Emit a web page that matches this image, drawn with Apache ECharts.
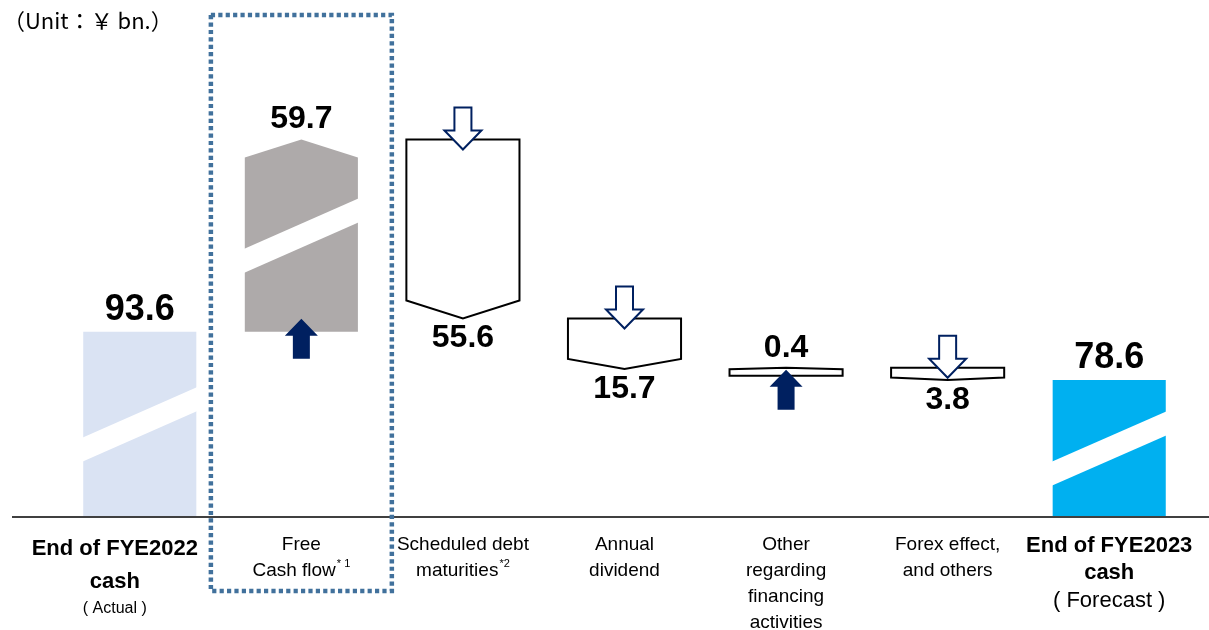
<!DOCTYPE html>
<html>
<head>
<meta charset="utf-8">
<script src="https://cdn.jsdelivr.net/npm/echarts@6/dist/echarts.min.js"></script>
<style>
  html, body { margin: 0; padding: 0; background: #fff; }
  #chart { width: 1209px; height: 630px; }
</style>
</head>
<body>
<div id="chart"></div>
<script>
// ---- data ----
const categories = [
  'End of FYE2022 cash',
  'Free Cash flow',
  'Scheduled debt maturities',
  'Annual dividend',
  'Other regarding financing activities',
  'Forex effect, and others',
  'End of FYE2023 cash'
];
// first and last entries are cash balances, the rest are changes (¥ bn.)
const amounts = [93.6, 59.7, -55.6, -15.7, 0.4, -3.8, 78.6];
const tickLabels = [
  '{b|End of FYE2022}\n{b|cash}\n{s|( Actual )}',
  '{n|Free}\n{n|Cash flow}{sup|* 1}',
  '{n|Scheduled debt}\n{n|maturities}{sup|*2}',
  '{n|Annual}\n{n|dividend}',
  '{n|Other}\n{n|regarding}\n{n|financing}\n{n|activities}',
  '{n|Forex effect,}\n{n|and others}',
  '{e|End of FYE2023}\n{e|cash}\n{f|( Forecast )}'
];
const unitText = '（Unit：￥ bn.）';

// ---- styles ----
const fills = ['#DAE3F3', '#AEAAAA', '#FFFFFF', '#FFFFFF', '#FFFFFF', '#FFFFFF', '#00B0F0'];
const outlined = [false, false, true, true, true, true, false];
const broken = [true, true, false, false, false, false, true];
const NAVY = '#002060';
const FONT = '"Liberation Sans", Arial, sans-serif';
const Y_MIN = 36, Y_MAX = 160;
const BAR_RATIO = 0.7;
const MIN_H = 8;

// waterfall rows: [index, low, high, kind]
const last = amounts.length - 1;
const rows = [];
let running = 0;
amounts.forEach((v, i) => {
  if (i === 0 || i === last) {
    running = v;
    rows.push([i, Y_MIN, v, 0]);
  } else {
    const from = running;
    running = +(running + v).toFixed(1);
    rows.push([i, Math.min(from, running), Math.max(from, running), v > 0 ? 1 : -1]);
  }
});

function upArrow(cx, tip) {
  return [[cx, tip], [cx + 16.5, tip + 17], [cx + 8.5, tip + 17], [cx + 8.5, tip + 40],
          [cx - 8.5, tip + 40], [cx - 8.5, tip + 17], [cx - 16.5, tip + 17]];
}
function downArrow(cx, tip) {
  return [[cx, tip], [cx + 18.5, tip - 19], [cx + 8.5, tip - 19], [cx + 8.5, tip - 42],
          [cx - 8.5, tip - 42], [cx - 8.5, tip - 19], [cx - 18.5, tip - 19]];
}

function renderItem(params, api) {
  const i = api.value(0);
  const lo = api.value(1), hi = api.value(2), kind = api.value(3);
  const cs = params.coordSys;
  const base = cs.y + cs.height;
  const w = api.size([1, 0])[0] * BAR_RATIO;
  const pHi = api.coord([i, hi]);
  const cx = pHi[0];
  const x0 = cx - w / 2, x1 = cx + w / 2;
  let top = pHi[1];
  let bottom = kind === 0 ? base : api.coord([i, lo])[1];
  if (bottom - top < MIN_H) bottom = top + MIN_H;
  const h = bottom - top;
  const p = Math.min(18, h * 0.2);
  const children = [];

  let pts;
  if (kind === 0) {
    pts = [[x0, top], [x1, top], [x1, bottom], [x0, bottom]];
  } else if (kind > 0) {
    pts = [[x0, bottom], [x0, top + p], [cx, top], [x1, top + p], [x1, bottom]];
  } else {
    pts = [[x0, top], [x1, top], [x1, bottom - p], [cx, bottom], [x0, bottom - p]];
  }
  children.push({
    type: 'polygon',
    shape: { points: pts },
    style: outlined[i]
      ? { fill: fills[i], stroke: '#000', lineWidth: 2, lineJoin: 'miter' }
      : { fill: fills[i] }
  });

  // diagonal white gap marking the compressed scale
  if (broken[i]) {
    const mid = bottom - h * 0.5;
    const s = 0.44, t = 12;
    const yl = mid + s * (w / 2) + s, yr = mid - s * (w / 2) - s;
    children.push({
      type: 'polygon',
      shape: { points: [[x0 - 1, yl - t], [x1 + 1, yr - t], [x1 + 1, yr + t], [x0 - 1, yl + t]] },
      style: { fill: '#FFFFFF' }
    });
  }

  if (kind > 0) {
    children.push({
      type: 'polygon',
      shape: { points: upArrow(cx, bottom - Math.min(13, h - 2)) },
      style: { fill: NAVY }
    });
  } else if (kind < 0) {
    children.push({
      type: 'polygon',
      shape: { points: downArrow(cx, top + Math.min(10, h - 2)) },
      style: { fill: '#FFFFFF', stroke: NAVY, lineWidth: 2, lineJoin: 'miter' }
    });
  }

  const txt = Math.abs(amounts[i]).toFixed(1);
  const below = kind < 0;
  children.push({
    type: 'text',
    style: {
      text: txt,
      x: cx,
      y: below ? bottom + 4 : top - 4,
      align: 'center',
      verticalAlign: below ? 'top' : 'bottom',
      fill: '#000',
      fontSize: kind === 0 ? 36 : 32,
      fontWeight: 'bold',
      fontFamily: FONT
    }
  });

  return { type: 'group', children };
}

const chart = echarts.init(document.getElementById('chart'), null, { renderer: 'canvas' });

const option = {
  animation: false,
  backgroundColor: '#fff',
  title: {
    text: unitText,
    left: 3,
    top: 10,
    padding: 0,
    textStyle: { fontSize: 22, fontWeight: 'normal', color: '#000', fontFamily: '"Noto Sans CJK JP", sans-serif' }
  },
  grid: { left: 59, right: 19, top: 118, bottom: 113, containLabel: false, outerBoundsMode: 'none' },
  xAxis: {
    type: 'category',
    data: categories.map((c, i) => i === 0
      ? { value: c, textStyle: { padding: [0, 50, 0, 0] } }
      : c),
    axisLine: { show: false },
    axisTick: { show: false },
    splitLine: { show: false },
    axisLabel: {
      interval: 0,
      margin: 15,
      color: '#000',
      fontFamily: FONT,
      formatter: (v, idx) => tickLabels[idx],
      rich: {
        b: { fontSize: 22, fontWeight: 'bold', lineHeight: 33, fontFamily: FONT, color: '#000' },
        s: { fontSize: 16, lineHeight: 22, fontFamily: FONT, color: '#000' },
        e: { fontSize: 22, fontWeight: 'bold', lineHeight: 27, fontFamily: FONT, color: '#000' },
        f: { fontSize: 22, lineHeight: 29, fontFamily: FONT, color: '#000' },
        n: { fontSize: 19, lineHeight: 26, fontFamily: FONT, color: '#000' },
        sup: { fontSize: 11, lineHeight: 26, verticalAlign: 'top', padding: [0, 0, 0, 1], fontFamily: FONT, color: '#000' }
      }
    }
  },
  yAxis: { type: 'value', min: Y_MIN, max: Y_MAX, interval: 4, show: false },
  series: [{
    type: 'custom',
    renderItem,
    data: rows,
    encode: { x: 0, y: [1, 2] },
    clip: false,
    silent: true,
    z: 2
  }]
};

chart.setOption(option);

// baseline across the page and dotted frame around the free cash flow column
const baseY = chart.convertToPixel({ gridIndex: 0 }, [0, Y_MIN])[1];
const fcfX = chart.convertToPixel({ gridIndex: 0 }, [1, Y_MIN])[0];
const slotW = chart.convertToPixel({ gridIndex: 0 }, [2, Y_MIN])[0] - fcfX;
const boxW = slotW * 1.12;
chart.setOption({
  graphic: [
    {
      type: 'line',
      shape: { x1: 12, y1: baseY, x2: 1209, y2: baseY },
      style: { stroke: '#404040', lineWidth: 2 },
      z: 10
    },
    {
      type: 'rect',
      shape: { x: fcfX - boxW / 2, y: 15, width: boxW, height: 576 },
      style: { fill: 'none', stroke: '#41719C', lineWidth: 4.5, lineDash: [4.2, 3.2] },
      z: 10
    }
  ]
});
</script>
</body>
</html>
